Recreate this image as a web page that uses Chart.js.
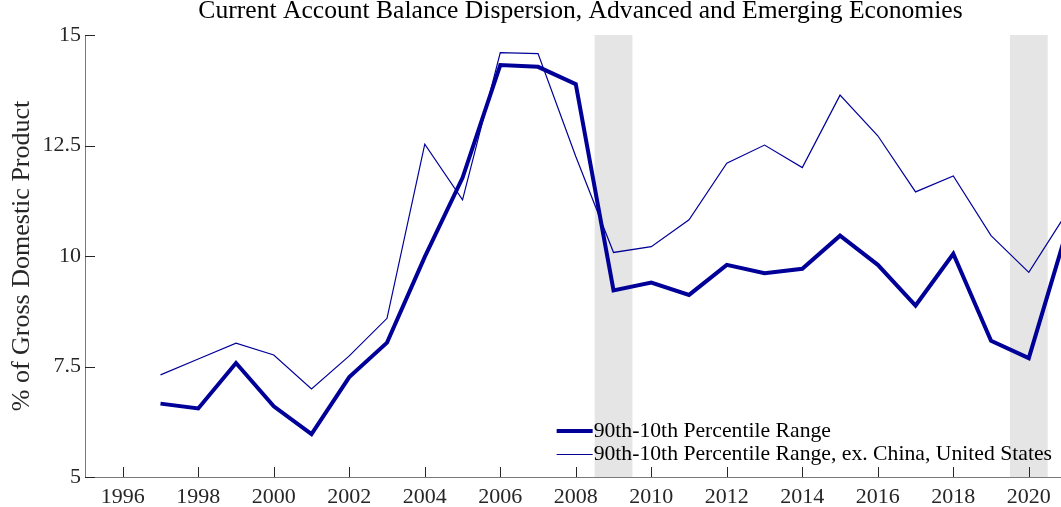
<!DOCTYPE html>
<html>
<head>
<meta charset="utf-8">
<title>Current Account Balance Dispersion</title>
<script src="https://cdn.jsdelivr.net/npm/chart.js@4.4.1/dist/chart.umd.min.js"></script>
<style>
  html, body { margin: 0; padding: 0; background: #fff; overflow: hidden; }
  #wrap { width: 1090px; height: 507px; }
</style>
</head>
<body>
<div id="wrap"><canvas id="chart" width="1090" height="507"></canvas></div>
<script>
// ===== DATA =====
const years = [1997, 1998, 1999, 2000, 2001, 2002, 2003, 2004, 2005, 2006, 2007, 2008, 2009,
               2010, 2011, 2012, 2013, 2014, 2015, 2016, 2017, 2018, 2019, 2020, 2021];
const range90to10 = [6.66, 6.55, 7.58, 6.60, 5.97, 7.26, 8.04, 9.98, 11.77, 14.32, 14.28, 13.89, 9.22,
                     9.40, 9.12, 9.80, 9.61, 9.71, 10.46, 9.80, 8.88, 10.05, 8.08, 7.69, 10.55];
const range90to10ExCnUs = [7.31, 7.67, 8.03, 7.76, 6.99, 7.74, 8.59, 12.53, 11.27, 14.60, 14.58, 12.25, 10.08,
                           10.21, 10.82, 12.10, 12.51, 12.00, 13.64, 12.72, 11.45, 11.81, 10.46, 9.63, 10.97];
const seriesNames = ["90th-10th Percentile Range", "90th-10th Percentile Range, ex. China, United States"];

const yearTicks = [1996, 1998, 2000, 2002, 2004, 2006, 2008, 2010, 2012, 2014, 2016, 2018, 2020];
const pctTicks = [5, 7.5, 10, 12.5, 15];

// recessions (shaded)
const recessionStart = [2008.5, 2019.5];
const recessionEnd = [2009.5, 2020.5];

const chartTitle = "Current Account Balance Dispersion, Advanced and Emerging Economies";
const yTitle = "% of Gross Domestic Product";

const FONT = "'Liberation Serif', 'Times New Roman', serif";
const NAVY = "#000099";
const TICK_COLOR = "#262626";
const AXIS_COLOR = "#7a7a7a";

// ===== PLUGINS =====
const recessionShade = {
  id: "recessionShade",
  beforeDraw(chart) {
    const {ctx, chartArea: a, scales: {x}} = chart;
    ctx.save();
    ctx.fillStyle = "#e5e5e5";
    recessionStart.forEach((s, i) => {
      const x0 = x.getPixelForValue(s);
      const x1 = x.getPixelForValue(recessionEnd[i]);
      ctx.fillRect(x0, a.top, x1 - x0, a.bottom - a.top);
    });
    ctx.restore();
  }
};

// short tick marks pointing into the plot
const innerTicks = {
  id: "innerTicks",
  afterDraw(chart) {
    const {ctx, chartArea: a, scales: {x, y}} = chart;
    ctx.save();
    ctx.strokeStyle = TICK_COLOR;
    ctx.lineWidth = 1;
    ctx.beginPath();
    yearTicks.forEach(t => {
      const px = Math.round(x.getPixelForValue(t)) + 0.5;
      ctx.moveTo(px, a.bottom);
      ctx.lineTo(px, a.bottom - 10);
    });
    pctTicks.forEach(t => {
      const py = Math.round(y.getPixelForValue(t)) + 0.5;
      ctx.moveTo(a.left, py);
      ctx.lineTo(a.left + 10, py);
    });
    ctx.stroke();
    ctx.restore();
  }
};

// legend in the lower right corner of the plot, no box
const cornerLegend = {
  id: "cornerLegend",
  afterDatasetsDraw(chart) {
    const {ctx, chartArea: a} = chart;
    ctx.save();
    ctx.font = "21.7px " + FONT;
    ctx.fillStyle = "#000";
    ctx.textBaseline = "alphabetic";
    const widest = Math.max(...chart.data.datasets.map(d => ctx.measureText(d.label).width));
    const textX = a.right - 24 - widest;
    const baselines = [a.bottom - 40.5, a.bottom - 17];
    chart.data.datasets.forEach((d, i) => {
      const yy = baselines[i] - 5.5;
      ctx.strokeStyle = d.borderColor;
      ctx.lineWidth = d.borderWidth;
      ctx.beginPath();
      ctx.moveTo(textX - 37, yy);
      ctx.lineTo(textX - 1, yy);
      ctx.stroke();
      ctx.fillText(d.label, textX, baselines[i]);
    });
    ctx.restore();
  }
};

const plotTitle = {
  id: "plotTitle",
  afterDraw(chart) {
    const {ctx, chartArea: a} = chart;
    ctx.save();
    ctx.font = "25.6px " + FONT;
    ctx.fillStyle = "#000";
    ctx.textAlign = "center";
    ctx.textBaseline = "alphabetic";
    ctx.fillText(chartTitle, (a.left + a.right) / 2, 18);
    ctx.restore();
  }
};

// ===== CHART =====
new Chart(document.getElementById("chart"), {
  type: "line",
  data: {
    datasets: [
      {
        label: seriesNames[0],
        data: years.map((t, i) => ({x: t, y: range90to10[i]})),
        borderColor: NAVY,
        borderWidth: 4,
        pointRadius: 0,
        tension: 0
      },
      {
        label: seriesNames[1],
        data: years.map((t, i) => ({x: t, y: range90to10ExCnUs[i]})),
        borderColor: NAVY,
        borderWidth: 1.2,
        pointRadius: 0,
        tension: 0
      }
    ]
  },
  options: {
    responsive: false,
    animation: false,
    devicePixelRatio: 1,
    layout: {padding: {top: 35, right: 14, bottom: 0, left: 0}},
    plugins: {
      legend: {display: false},
      title: {display: false},
      tooltip: {enabled: false}
    },
    scales: {
      x: {
        type: "linear",
        min: 1995,
        max: 2021.25,
        afterBuildTicks: s => { s.ticks = yearTicks.map(v => ({value: v})); },
        afterFit: s => { s.height = 30; },
        ticks: {
          callback: v => String(v),
          color: TICK_COLOR,
          padding: 7,
          maxRotation: 0,
          autoSkip: false,
          font: {family: FONT, size: 22}
        },
        grid: {display: true, drawOnChartArea: false, drawTicks: false},
        border: {display: true, color: AXIS_COLOR, width: 1}
      },
      y: {
        min: 5,
        max: 15,
        afterBuildTicks: s => { s.ticks = pctTicks.map(v => ({value: v})); },
        afterFit: s => { s.width = 85; },
        ticks: {
          callback: v => String(v),
          color: TICK_COLOR,
          padding: 4,
          font: {family: FONT, size: 22}
        },
        grid: {display: true, drawOnChartArea: false, drawTicks: false},
        border: {display: true, color: AXIS_COLOR, width: 1},
        title: {
          display: true,
          text: yTitle,
          color: TICK_COLOR,
          padding: {top: 7, bottom: 0},
          font: {family: FONT, size: 26}
        }
      }
    }
  },
  plugins: [recessionShade, innerTicks, cornerLegend, plotTitle]
});
</script>
</body>
</html>
